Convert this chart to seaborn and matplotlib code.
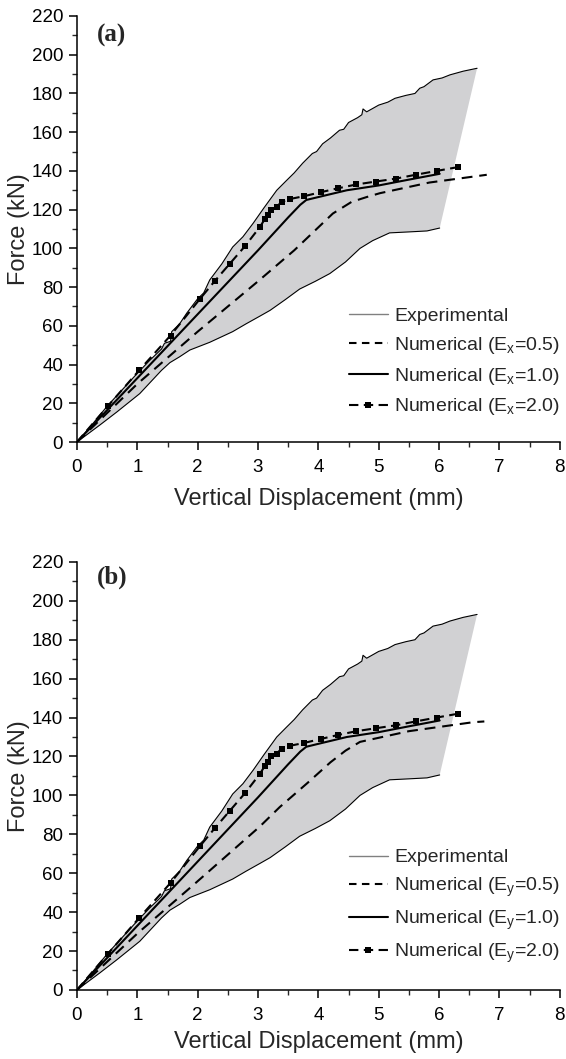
import numpy as np
import matplotlib
matplotlib.use('Agg')
import matplotlib.pyplot as plt
import seaborn as sns
from matplotlib.lines import Line2D
from matplotlib.ticker import MultipleLocator

# ---------------- data ----------------
exp_upper_x = [0, 0.25, 0.5, 0.75, 1.0, 1.2, 1.4, 1.45, 1.55, 1.57, 1.7, 1.82, 2.0, 2.1, 2.2, 2.4,
               2.58, 2.75, 2.92, 3.1, 3.31, 3.47, 3.6, 3.74, 3.9, 3.97, 4.07, 4.2, 4.35, 4.42,
               4.5, 4.65, 4.72, 4.74, 4.8, 5.0, 5.15, 5.27, 5.45, 5.6, 5.68, 5.75, 5.9, 6.05,
               6.18, 6.4, 6.63]
exp_upper_y = [0, 9, 18.5, 27, 35.5, 42, 48, 51, 52, 57, 61, 66.6, 74, 77, 83.7, 92,
               100.7, 106, 113, 121, 130, 135, 139, 144, 149, 150, 154, 157, 161, 161.5,
               165, 167.5, 169, 172, 170.5, 174, 175.5, 177.5, 179, 180, 182.7, 183.5, 187, 188,
               189.6, 191.5, 193]

exp_lower_x = [0, 0.38, 0.66, 0.8, 1.04, 1.25, 1.4, 1.54, 1.7, 1.87, 2.2, 2.58, 2.8, 3.03,
               3.2, 3.45, 3.69, 3.95, 4.19, 4.45, 4.69, 4.9, 5.18, 5.5, 5.8, 6.01]
exp_lower_y = [0, 8.8, 15.5, 19, 25, 32, 37, 41, 44, 47.5, 51.5, 57, 61, 65,
               68, 73.5, 79, 83, 87, 93, 100, 104, 108, 108.5, 109, 110.5]

num10_x = [0, 3.0, 3.5, 3.7, 3.8, 4.0, 4.47, 5.0, 5.5, 6.01]
num10_y = [0, 99, 116, 122.5, 125, 126.5, 130, 132.5, 135.5, 138.5]

num20_x = [0, 0.51, 1.03, 1.55, 2.04, 2.28, 2.53, 2.78, 3.03, 3.11, 3.16, 3.22, 3.31, 3.39,
           3.53, 3.77, 4.04, 4.32, 4.63, 4.95, 5.28, 5.61, 5.96, 6.32]
num20_y = [0, 18.5, 37, 55, 74, 83, 92, 101, 111, 115, 117, 120, 121.5, 124,
           125.5, 127, 129, 131, 133, 134.5, 136, 138, 140, 142]

num05x_x = [0, 1.0, 2.0, 3.0, 3.6, 4.24, 4.55, 4.8, 5.02, 5.84, 6.79]
num05x_y = [0, 30, 57, 83, 99, 118, 124, 126.5, 128.5, 134, 138]

num05y_x = [0, 1.0, 1.93, 3.03, 3.36, 3.82, 4.2, 4.45, 4.69, 5.5, 6.56, 6.75]
num05y_y = [0, 29, 54, 84, 94, 106.4, 117, 123, 127.5, 133, 137.6, 138]

legend_labels_x = ['Experimental', r'Numerical (E$_{\mathrm{x}}$=0.5)',
                   r'Numerical (E$_{\mathrm{x}}$=1.0)', r'Numerical (E$_{\mathrm{x}}$=2.0)']
legend_labels_y = ['Experimental', r'Numerical (E$_{\mathrm{y}}$=0.5)',
                   r'Numerical (E$_{\mathrm{y}}$=1.0)', r'Numerical (E$_{\mathrm{y}}$=2.0)']

# ---------------- style ----------------
sns.set_style('ticks')
plt.rcParams['font.family'] = ['Liberation Sans', 'DejaVu Sans']
plt.rcParams['mathtext.fontset'] = 'custom'
plt.rcParams['mathtext.rm'] = 'Liberation Sans'
plt.rcParams['mathtext.it'] = 'Liberation Sans:italic'
plt.rcParams['mathtext.bf'] = 'Liberation Sans:bold'

fig = plt.figure(figsize=(5.66, 10.59), dpi=100)
ax_a = fig.add_axes([0.136, 0.5826, 0.853, 0.4023])
ax_b = fig.add_axes([0.136, 0.0652, 0.853, 0.4042])

DASH = (0, (5.2, 3.3))
DASH2 = (0, (4.5, 2.6))


def panel(ax, d05_x, d05_y, labels, tag, tag_y, xlabelpad):
    ax.fill(np.concatenate([exp_upper_x, exp_lower_x[::-1]]),
            np.concatenate([exp_upper_y, exp_lower_y[::-1]]),
            color='#d1d1d3', lw=0, zorder=1)
    sns.lineplot(x=exp_upper_x, y=exp_upper_y, ax=ax, color='black', lw=0.8,
                 sort=False, estimator=None, zorder=2)
    sns.lineplot(x=exp_lower_x, y=exp_lower_y, ax=ax, color='black', lw=0.8,
                 sort=False, estimator=None, zorder=2)
    sns.lineplot(x=d05_x, y=d05_y, ax=ax, color='black', lw=1.5, linestyle=DASH,
                 sort=False, estimator=None, zorder=3)
    sns.lineplot(x=num10_x, y=num10_y, ax=ax, color='black', lw=1.5,
                 sort=False, estimator=None, zorder=3)
    h10 = ax.lines[-1]
    sns.lineplot(x=num20_x, y=num20_y, ax=ax, color='black', lw=1.5, linestyle=DASH2,
                 marker='s', markersize=4.5, markeredgewidth=0,
                 markevery=list(range(1, len(num20_x))),
                 sort=False, estimator=None, zorder=4)
    hexp = Line2D([], [], color='0.5', lw=1.0)
    h05l = Line2D([], [], color='black', lw=1.5, linestyle=(0, (3.6, 2.6)))
    h20l = Line2D([], [], color='black', lw=1.5, linestyle=DASH2, marker='s',
                  markersize=4.5, markeredgewidth=0)
    ax.legend([hexp, h05l, h10, h20l], labels, loc='lower left',
              bbox_to_anchor=(0.563, 0.058), frameon=False, fontsize=14,
              handlelength=2.0, handletextpad=0.35, labelspacing=0.5,
              numpoints=1, borderaxespad=0, borderpad=0)

    ax.set_xlim(0, 8)
    ax.set_ylim(0, 220)
    ax.xaxis.set_major_locator(MultipleLocator(1))
    ax.xaxis.set_minor_locator(MultipleLocator(0.5))
    ax.yaxis.set_major_locator(MultipleLocator(20))
    ax.yaxis.set_minor_locator(MultipleLocator(10))
    ax.tick_params(which='major', direction='out', length=6, width=1.1,
                   labelsize=13.5, colors='black', pad=4)
    ax.tick_params(axis='x', which='major', pad=6)
    ax.tick_params(which='minor', direction='out', length=3.5, width=1.0)
    for s in ['left', 'bottom']:
        ax.spines[s].set_linewidth(1.1)
        ax.spines[s].set_color('black')
    sns.despine(ax=ax)
    ax.set_xlabel('Vertical Displacement (mm)', fontsize=17, labelpad=xlabelpad)
    ax.set_ylabel('Force (kN)', fontsize=17, labelpad=1)
    ax.text(0.041, tag_y, tag, transform=ax.transAxes, ha='left', va='center',
            fontsize=18, fontweight='bold', family=['Liberation Serif', 'DejaVu Serif'])


panel(ax_a, num05x_x, num05x_y, legend_labels_x, '(a)', 0.955, 9)
panel(ax_b, num05y_x, num05y_y, legend_labels_y, '(b)', 0.965, 5)

fig.savefig('out.png', dpi=100)
